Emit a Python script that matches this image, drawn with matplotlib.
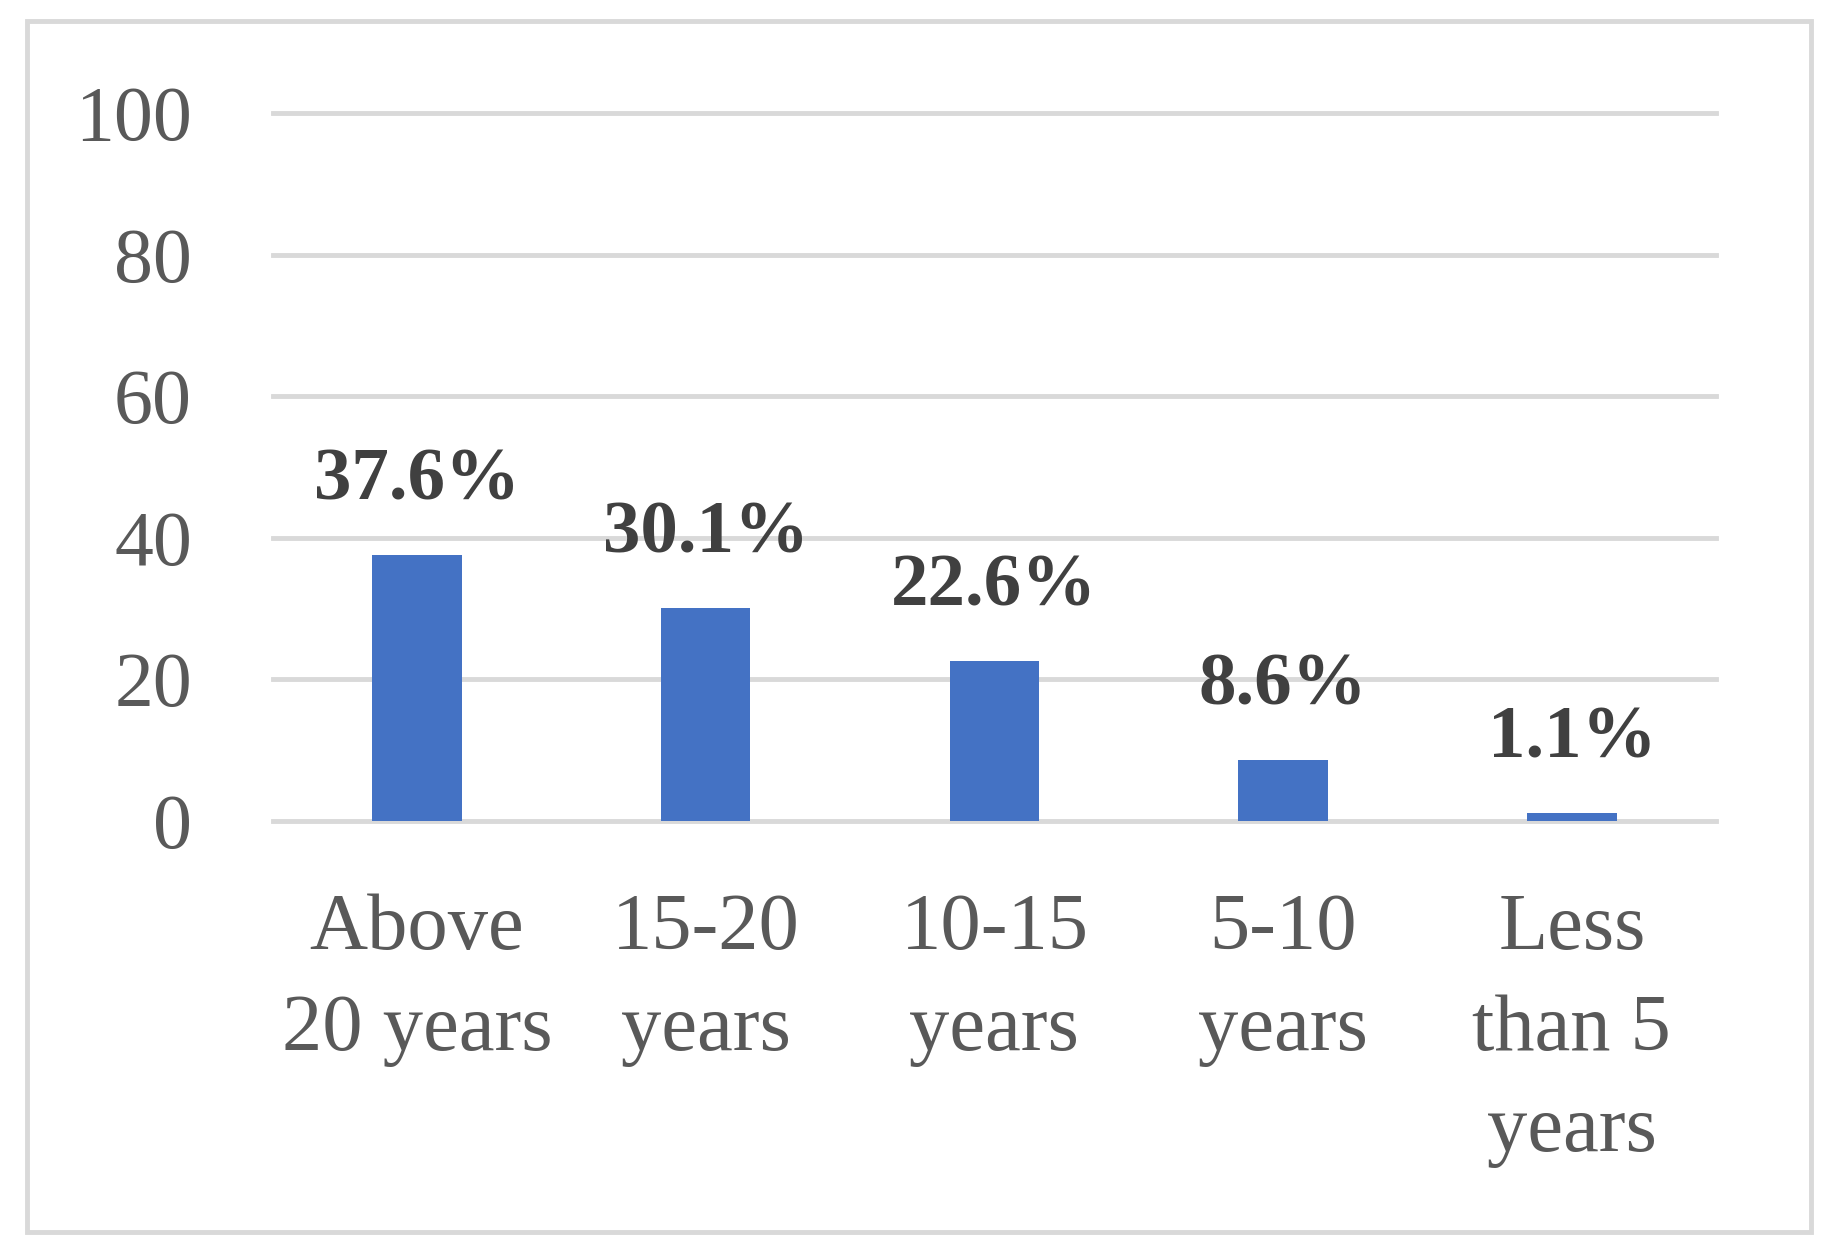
import matplotlib.pyplot as plt
from matplotlib.patches import Rectangle
import numpy as np

categories = ["Above\n20 years", "15-20\nyears", "10-15\nyears", "5-10\nyears", "Less\nthan 5\nyears"]
values = [37.6, 30.1, 22.6, 8.6, 1.1]
labels = ["37.6%", "30.1%", "22.6%", "8.6%", "1.1%"]
yticks = [0, 20, 40, 60, 80, 100]

plt.rcParams['font.family'] = ['Liberation Serif', 'DejaVu Serif']

fig = plt.figure(figsize=(18.42, 12.57), dpi=100)
ax = fig.add_axes([0.148, 0.3472, 0.7837, 0.5628])

x = np.arange(len(categories))
ax.bar(x, values, width=0.31, color='#4472C4', zorder=3)

for i, v in enumerate(values):
    ax.annotate(labels[i], (x[i], v), xytext=(0, 40), textcoords='offset points',
                ha='center', va='baseline', fontsize=54, fontweight='bold', color='#404040')

ax.set_xlim(-0.5, len(categories) - 0.5)
ax.set_ylim(0, 100)
ax.set_yticks(yticks)
ax.set_xticks(x)
ax.set_xticklabels(categories, linespacing=1.5)
ax.tick_params(axis='y', length=0, pad=58, labelsize=56, labelcolor='#595959')
ax.tick_params(axis='x', length=0, pad=52, labelsize=58, labelcolor='#595959')

ax.yaxis.grid(True, color='#D9D9D9', linewidth=3.5)
ax.set_axisbelow(True)
for line in ax.get_ygridlines():
    line.set_clip_on(False)
for s in ax.spines.values():
    s.set_visible(False)

fig.patches.append(Rectangle((0.0147, 0.02), 0.9686, 0.963, transform=fig.transFigure,
                             fill=False, edgecolor='#D9D9D9', linewidth=3.5))

fig.savefig('out.png', dpi=100, facecolor='white')
